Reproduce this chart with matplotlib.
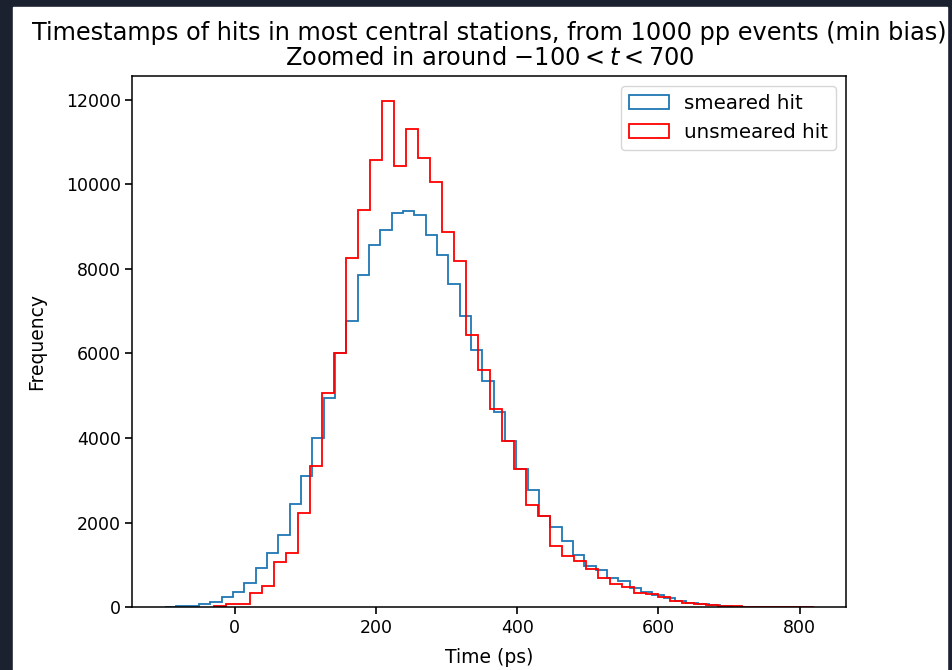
import numpy as np
import matplotlib
matplotlib.use("Agg")
import matplotlib.pyplot as plt
from matplotlib.patches import Rectangle

# bin edges (ps) for each histogram, 50 bins each
smeared_edges = np.linspace(-99, 703.5, 51)
unsmeared_edges = np.linspace(-30, 820, 51)

# counts per bin
smeared_counts = [15, 20, 30, 70, 130, 250, 370, 570, 925, 1280,
                  1700, 2440, 3100, 4010, 4950, 6020, 6770, 7860, 8560, 8925,
                  9320, 9360, 9280, 8810, 8330, 7640, 6890, 6070, 5350, 4610,
                  3940, 3280, 2780, 2150, 1890, 1560, 1235, 980, 885, 700,
                  610, 465, 370, 290, 230, 155, 110, 80, 55, 40]
unsmeared_counts = [35, 75, 80, 330, 505, 1060, 1280, 2240, 3340, 5060,
                    6020, 8250, 9400, 10580, 11960, 10430, 11310, 10620, 10060, 8860,
                    8190, 6440, 5620, 4690, 3940, 3280, 2410, 2150, 1440, 1215,
                    1100, 900, 700, 560, 470, 330, 320, 240, 160, 90,
                    70, 45, 35, 25, 15, 6, 3, 2, 1, 1]

fig = plt.figure(figsize=(9.53, 6.70), dpi=100, facecolor="#1c2130")
# white notebook output area inside the dark frame
fig.patches.append(Rectangle((13 / 953, 0), 934 / 953, 663 / 670,
                             transform=fig.transFigure, color="white", zorder=-1))
ax = fig.add_axes([0.139, 0.0936, 0.749, 0.793])

ax.hist(smeared_edges[:-1], bins=smeared_edges, weights=smeared_counts,
        histtype="step", color="#1f77b4", linewidth=1.3, label="smeared hit")
ax.hist(unsmeared_edges[:-1], bins=unsmeared_edges, weights=unsmeared_counts,
        histtype="step", color="red", linewidth=1.3, label="unsmeared hit")

ax.set_xticks([0, 200, 400, 600, 800])
ax.set_yticks(np.arange(0, 12001, 2000))
ax.tick_params(labelsize=12.5, width=1.2, length=5)
for s in ax.spines.values():
    s.set_linewidth(1.1)
ax.set_xlabel("Time (ps)", fontsize=13.5, labelpad=8)
ax.set_ylabel("Frequency", fontsize=13.5, labelpad=14)
ax.set_title("Timestamps of hits in most central stations, from 1000 pp events (min bias)\n"
             "Zoomed in around $-100 < t < 700$", fontsize=17.3, linespacing=1.05, pad=8)
ax.legend(fontsize=14.3, loc="upper right")

fig.savefig("out.png", dpi=100, facecolor=fig.get_facecolor())
